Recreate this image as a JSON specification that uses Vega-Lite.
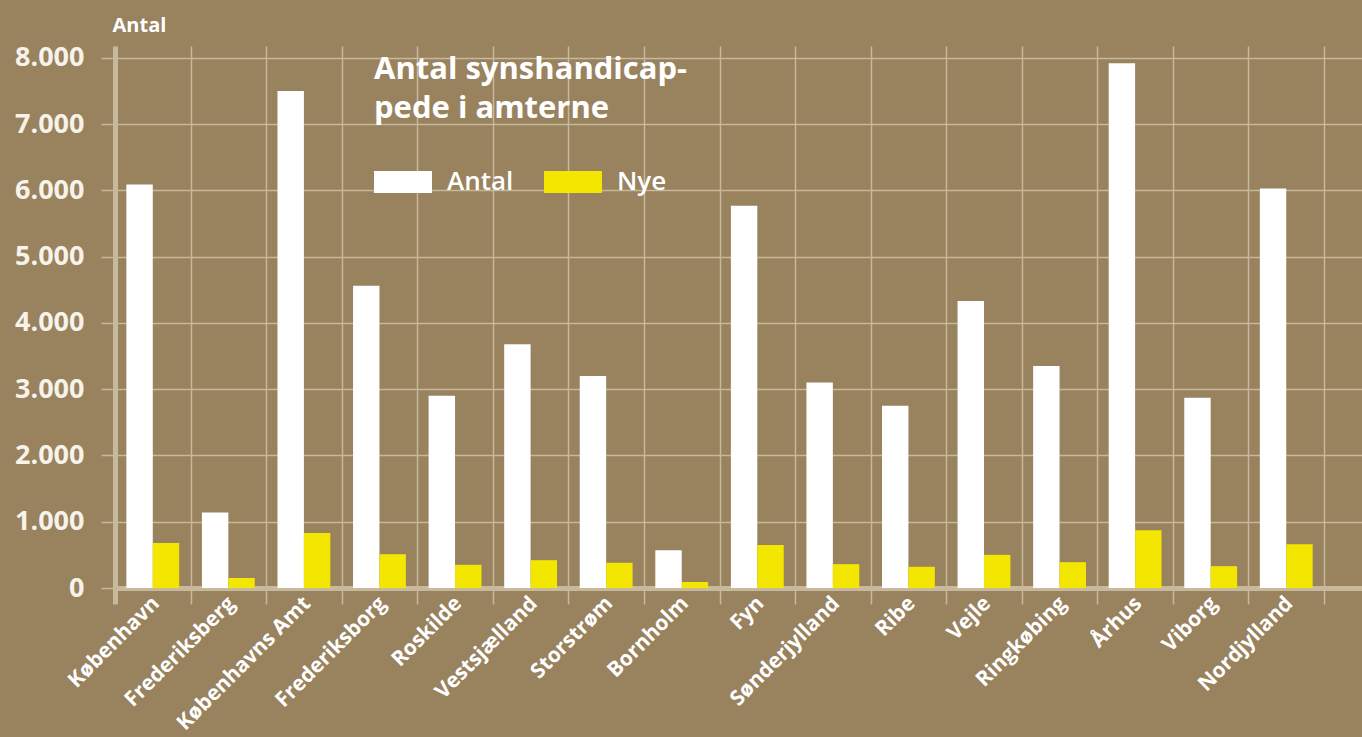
{
  "$schema": "https://vega.github.io/schema/vega-lite/v6.json",
  "width": 1247,
  "height": 542,
  "autosize": "none",
  "padding": {"left": 115, "top": 46, "right": 0, "bottom": 149},
  "background": "#99825e",
  "data": {
    "values": [
      {"amt": "København", "serie": "Antal", "value": 6090},
      {"amt": "København", "serie": "Nye", "value": 680},
      {"amt": "Frederiksberg", "serie": "Antal", "value": 1140},
      {"amt": "Frederiksberg", "serie": "Nye", "value": 150},
      {"amt": "Københavns Amt", "serie": "Antal", "value": 7500},
      {"amt": "Københavns Amt", "serie": "Nye", "value": 830},
      {"amt": "Frederiksborg", "serie": "Antal", "value": 4560},
      {"amt": "Frederiksborg", "serie": "Nye", "value": 510},
      {"amt": "Roskilde", "serie": "Antal", "value": 2900},
      {"amt": "Roskilde", "serie": "Nye", "value": 350},
      {"amt": "Vestsjælland", "serie": "Antal", "value": 3680},
      {"amt": "Vestsjælland", "serie": "Nye", "value": 420},
      {"amt": "Storstrøm", "serie": "Antal", "value": 3200},
      {"amt": "Storstrøm", "serie": "Nye", "value": 380},
      {"amt": "Bornholm", "serie": "Antal", "value": 570},
      {"amt": "Bornholm", "serie": "Nye", "value": 90},
      {"amt": "Fyn", "serie": "Antal", "value": 5770},
      {"amt": "Fyn", "serie": "Nye", "value": 650},
      {"amt": "Sønderjylland", "serie": "Antal", "value": 3100},
      {"amt": "Sønderjylland", "serie": "Nye", "value": 360},
      {"amt": "Ribe", "serie": "Antal", "value": 2750},
      {"amt": "Ribe", "serie": "Nye", "value": 320},
      {"amt": "Vejle", "serie": "Antal", "value": 4330},
      {"amt": "Vejle", "serie": "Nye", "value": 500},
      {"amt": "Ringkøbing", "serie": "Antal", "value": 3350},
      {"amt": "Ringkøbing", "serie": "Nye", "value": 390},
      {"amt": "Århus", "serie": "Antal", "value": 7920},
      {"amt": "Århus", "serie": "Nye", "value": 870},
      {"amt": "Viborg", "serie": "Antal", "value": 2870},
      {"amt": "Viborg", "serie": "Nye", "value": 330},
      {"amt": "Nordjylland", "serie": "Antal", "value": 6030},
      {"amt": "Nordjylland", "serie": "Nye", "value": 660}
    ]
  },
  "mark": {"type": "bar"},
  "encoding": {
    "x": {
      "field": "amt",
      "type": "nominal",
      "sort": null,
      "scale": {
        "domain": ["København", "Frederiksberg", "Københavns Amt", "Frederiksborg", "Roskilde", "Vestsjælland", "Storstrøm", "Bornholm", "Fyn", "Sønderjylland", "Ribe", "Vejle", "Ringkøbing", "Århus", "Viborg", "Nordjylland", " "],
        "range": [0, 1284.6],
        "paddingInner": 0,
        "paddingOuter": 0
      },
      "axis": {
        "title": null,
        "domain": false,
        "tickBand": "extent",
        "grid": true,
        "gridColor": "#c8b89c",
        "gridWidth": 1.5,
        "ticks": true,
        "tickSize": 16,
        "tickColor": "#c8b89c",
        "tickWidth": {"condition": {"test": "datum.index < 0 || datum.extra", "value": 5}, "value": 1.5},
        "labelAngle": -45,
        "labelAlign": "right",
        "labelBaseline": "middle",
        "labelFont": "Open Sans",
        "labelFontWeight": "bold",
        "labelFontSize": 21,
        "labelColor": "#ffffff",
        "labelPadding": -4,
        "labelOffset": 3,
        "labelLimit": 400
      }
    },
    "xOffset": {
      "field": "serie",
      "type": "nominal",
      "scale": {"paddingOuter": 0.43, "paddingInner": 0}
    },
    "y": {
      "field": "value",
      "type": "quantitative",
      "scale": {"domain": [0, 8180], "nice": false},
      "axis": {
        "title": "Antal",
        "titleAngle": 0,
        "titleAlign": "left",
        "titleBaseline": "middle",
        "titleX": -3,
        "titleY": -21,
        "titleFont": "Open Sans",
        "titleFontWeight": "bold",
        "titleFontSize": 20,
        "titleColor": "#ffffff",
        "values": [0, 1000, 2000, 3000, 4000, 5000, 6000, 7000, 8000],
        "labelExpr": "replace(format(datum.value, ','), ',', '.')",
        "labelFont": "Open Sans",
        "labelFontWeight": "bold",
        "labelFontSize": 27,
        "labelColor": "#f7f3ea",
        "labelPadding": 17,
        "labelBaseline": "middle",
        "grid": true,
        "gridColor": "#c8b89c",
        "gridWidth": {"condition": {"test": "datum.value === 0", "value": 5}, "value": 1.5},
        "ticks": true,
        "tickSize": 14,
        "tickColor": "#c8b89c",
        "tickWidth": 1.5,
        "domain": true,
        "domainColor": "#c8b89c",
        "domainWidth": 5
      }
    },
    "color": {
      "field": "serie",
      "type": "nominal",
      "scale": {"domain": ["Antal", "Nye"], "range": ["#ffffff", "#f3e600"]},
      "legend": {
        "orient": "none",
        "legendX": 259,
        "legendY": 9,
        "direction": "horizontal",
        "columns": 2,
        "columnPadding": 30,
        "padding": 0,
        "title": ["Antal synshandicap-", "pede i amterne"],
        "titleFont": "Open Sans",
        "titleFontWeight": "bold",
        "titleFontSize": 31,
        "titleLineHeight": 39,
        "titleLimit": 1000,
        "titleColor": "#ffffff",
        "titlePadding": 28,
        "titleBaseline": "top",
        "symbolType": "M-1,-0.38H1V0.38H-1Z",
        "symbolSize": 3364,
        "symbolStrokeWidth": 0,
        "symbolOpacity": 1,
        "labelFont": "Open Sans",
        "labelFontWeight": 600,
        "labelFontSize": 26,
        "labelColor": "#ffffff",
        "labelOffset": 15
      }
    }
  },
  "config": {"view": {"stroke": null}}
}
